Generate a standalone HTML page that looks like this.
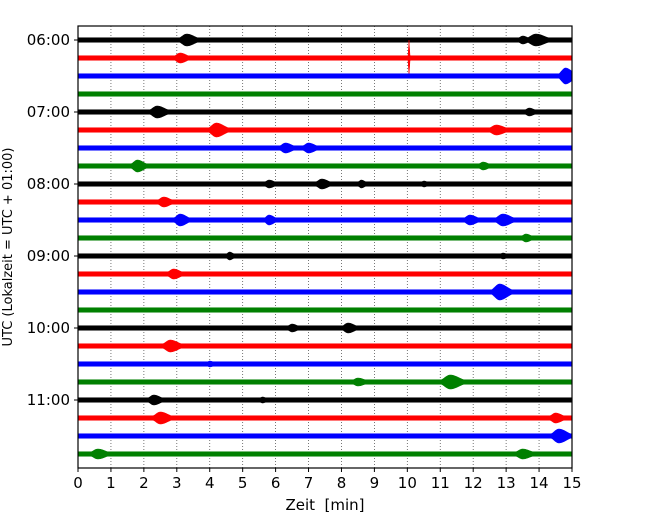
<!DOCTYPE html>
<html><head><meta charset="utf-8"><style>
body{margin:0;background:#fff;}
svg{display:block;font-family:"DejaVu Sans","Liberation Sans",sans-serif;}
</style></head><body>
<svg id="chart" width="650" height="520"></svg>
<script>
const traceColors = ['black','red','blue','green'];
const hourLabels = ['06:00','07:00','08:00','09:00','10:00','11:00'];
const xTicks = [0,1,2,3,4,5,6,7,8,9,10,11,12,13,14,15];
const traceCount = 24;
// events: traceIndex, minute, amplitude(px), duration(min)
const eventTrace = [0,0,0,1,1,2,4,4,5,5,6,6,7,7,8,8,8,8,9,10,10,10,10,11,12,12,13,14,16,16,17,18,19,19,20,20,21,21,22,23,23];
const eventMinute = [3.3,13.9,13.5,3.1,10.05,14.8,2.4,13.7,4.2,12.7,6.3,7.0,1.8,12.3,5.8,7.4,8.6,10.5,2.6,3.1,5.8,11.9,12.9,13.6,4.6,12.9,2.9,12.8,6.5,8.2,2.8,4.0,8.5,11.3,2.3,5.6,2.5,14.5,14.6,0.6,13.5];
const eventAmp = [6,6,4,5,18,8,6,4,7,5,5,5,6,4,4,5,4,3,5,6,5,5,6,4,4,3,5,8,4,5,6,3,4,7,5,3,6,5,7,5,5];
const eventDur = [0.6,0.7,0.4,0.5,0.04,0.5,0.6,0.4,0.6,0.6,0.5,0.5,0.5,0.4,0.4,0.5,0.3,0.3,0.5,0.5,0.4,0.5,0.6,0.4,0.3,0.3,0.5,0.6,0.4,0.5,0.6,0.3,0.5,0.7,0.5,0.3,0.6,0.5,0.6,0.6,0.6];

const L=78,R=572,T=26,B=468;
const xs=m=>L+(R-L)*m/15;
const ys=i=>40+18*i;
const svg=document.getElementById('chart');
const NS='http://www.w3.org/2000/svg';
function mk(tag,attrs,parent){const e=document.createElementNS(NS,tag);for(const k in attrs)e.setAttribute(k,attrs[k]);(parent||svg).appendChild(e);return e;}

xTicks.forEach(t=>{
  const g=mk('line',{x1:xs(t),x2:xs(t),y1:T,y2:B,stroke:'#555','stroke-width':0.8,'stroke-dasharray':'1,2'});
  
  
});

for(let i=0;i<traceCount;i++){
  const c=traceColors[i%4];
  const y=ys(i);
  const top=[],bot=[];
  for(let x=L;x<=R;x+=1){
    const m=(x-L)/(R-L)*15;
    let a=2.3;
    for(let k=0;k<eventTrace.length;k++){
      if(eventTrace[k]!==i)continue;
      const d=m-eventMinute[k];
      const dur=eventDur[k];
      const w=d<0?dur*0.35:dur*0.55;
      const env=Math.exp(-(d*d)/(w*w));
      a=Math.max(a,eventAmp[k]*env);
    }
    top.push(x+','+(y-a).toFixed(1));
    bot.unshift(x+','+(y+a).toFixed(1));
  }
  const p=mk('polygon',{points:top.concat(bot).join(' '),fill:c,stroke:c,'stroke-width':0.5});
  
  
}

const fr=mk('rect',{x:L,y:T,width:R-L,height:B-T,fill:'none',stroke:'#000','stroke-width':1.2});



xTicks.forEach(t=>{
  mk('line',{x1:xs(t),x2:xs(t),y1:B,y2:B+4,stroke:'#000'});
  const tx=mk('text',{x:xs(t),y:B+20,'text-anchor':'middle','font-size':15});
  tx.textContent=t;
  
  
});
hourLabels.forEach((h,j)=>{
  const y=ys(j*4);
  mk('line',{x1:L-4,x2:L,y1:y,y2:y,stroke:'#000'});
  const tx=mk('text',{x:L-8,y:y+5,'text-anchor':'end','font-size':15});
  tx.textContent=h;
  
  
});
const xt=mk('text',{x:(L+R)/2,y:510,'text-anchor':'middle','font-size':15,style:'white-space:pre'});
xt.textContent='Zeit  [min]';


const yt=mk('text',{x:0,y:0,'text-anchor':'middle','font-size':13,transform:'translate(12,247) rotate(-90)'});
yt.textContent='UTC (Lokalzeit = UTC + 01:00)';


</script>
</body></html>
